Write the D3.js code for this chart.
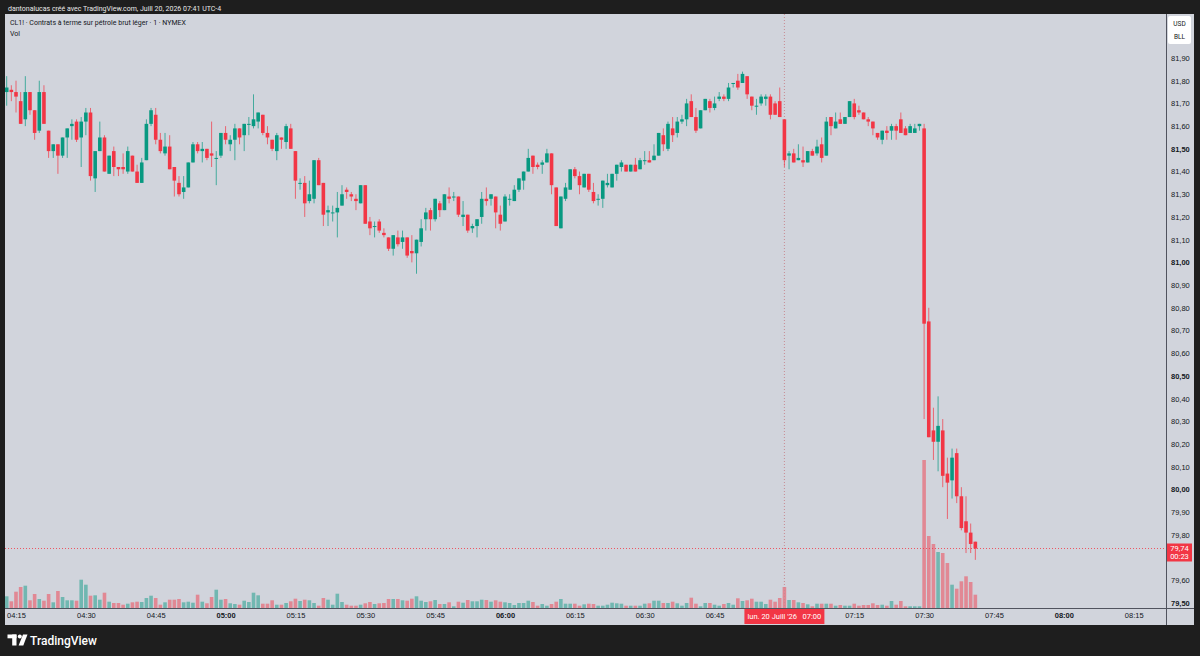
<!DOCTYPE html>
<html><head><meta charset="utf-8">
<script src="https://cdn.jsdelivr.net/npm/d3@7"></script>
<style>html,body{margin:0;padding:0;background:#1e1e1e;}svg{display:block;font-family:Roboto,"Liberation Sans",Arial,sans-serif;}</style>
</head><body><svg id="c" width="1200" height="656"></svg>
<script>
// ---------- DATA ----------
const startTime = "2026-07-20 04:13";       // first 1-minute candle
const axisStart = "2026-07-20 04:15";
const axisEnd   = "2026-07-20 08:15";
const crosshairTime = "2026-07-20 07:00";
const lastPrice = 79.74;
const countdown = "00:23";
const headerText = "dantonalucas créé avec TradingView.com, Juill 20, 2026 07:41 UTC-4";
const titleText = "CL1! · Contrats à terme sur pétrole brut léger · 1 · NYMEX";
const dateLabel = "lun. 20 Juill '26   07:00";
const currencyLabels = ["USD", "BLL"];

const open = [81.75,81.76,81.75,81.71,81.63,81.75,81.67,81.58,81.75,81.58,81.49,81.52,81.47,81.55,81.60,81.62,81.55,81.62,81.66,81.37,
81.49,81.55,81.39,81.49,81.42,81.42,81.40,81.47,81.40,81.35,81.45,81.61,81.65,81.54,81.48,81.51,81.42,81.35,81.31,81.33,
81.44,81.52,81.49,81.50,81.48,81.46,81.47,81.57,81.52,81.54,81.59,81.56,81.61,81.60,81.62,81.65,81.57,81.54,81.49,81.55,
81.53,81.59,81.49,81.35,81.35,81.27,81.28,81.45,81.35,81.22,81.22,81.22,81.25,81.32,81.30,81.28,81.26,81.34,81.18,81.16,
81.18,81.13,81.11,81.06,81.11,81.09,81.11,81.05,81.04,81.09,81.19,81.23,81.19,81.26,81.23,81.29,81.29,81.29,81.20,81.21,
81.15,81.16,81.20,81.28,81.28,81.29,81.21,81.18,81.28,81.27,81.32,81.36,81.40,81.47,81.43,81.43,81.44,81.48,81.33,81.15,
81.28,81.32,81.41,81.38,81.33,81.39,81.31,81.28,81.28,81.34,81.33,81.39,81.42,81.43,81.40,81.43,81.41,81.45,81.45,81.45,
81.47,81.56,81.50,81.59,81.57,81.62,81.63,81.71,81.64,81.59,81.67,81.71,81.68,81.72,81.73,81.72,81.79,81.80,81.79,81.82,
81.73,81.69,81.70,81.72,81.73,81.70,81.71,81.63,81.47,81.48,81.45,81.45,81.44,81.49,81.48,81.52,81.47,81.64,81.59,81.63,
81.61,81.64,81.70,81.67,81.66,81.63,81.62,81.57,81.54,81.58,81.58,81.60,81.63,81.59,81.57,81.57,81.60,81.59,80.74,80.26,
80.21,80.26,80.07,80.04,80.16,79.97,79.86,79.81,79.77];
const high = [81.82,81.78,81.80,81.75,81.82,81.75,81.67,81.80,81.78,81.58,81.52,81.52,81.55,81.59,81.63,81.63,81.64,81.68,81.68,81.49,
81.62,81.56,81.47,81.51,81.42,81.48,81.51,81.47,81.43,81.46,81.63,81.68,81.68,81.57,81.57,81.56,81.42,81.38,81.38,81.44,
81.53,81.53,81.53,81.50,81.62,81.49,81.57,81.60,81.56,81.61,81.59,81.61,81.64,81.74,81.66,81.65,81.60,81.54,81.57,81.55,
81.61,81.61,81.49,81.37,81.38,81.36,81.45,81.46,81.35,81.25,81.25,81.31,81.34,81.33,81.31,81.30,81.34,81.34,81.20,81.18,
81.19,81.15,81.11,81.12,81.14,81.14,81.11,81.12,81.10,81.19,81.24,81.24,81.28,81.27,81.30,81.33,81.31,81.29,81.27,81.21,
81.17,81.19,81.31,81.33,81.30,81.29,81.25,81.30,81.30,81.34,81.37,81.40,81.50,81.47,81.44,81.45,81.50,81.48,81.33,81.29,
81.35,81.41,81.42,81.40,81.39,81.39,81.35,81.30,81.36,81.39,81.39,81.43,81.45,81.43,81.43,81.46,81.46,81.49,81.49,81.52,
81.57,81.59,81.62,81.64,81.64,81.65,81.72,81.74,81.68,81.67,81.72,81.72,81.73,81.75,81.74,81.79,81.79,81.83,81.84,81.82,
81.73,81.72,81.74,81.74,81.74,81.71,81.77,81.63,81.49,81.50,81.52,81.51,81.49,81.50,81.54,81.55,81.64,81.64,81.66,81.66,
81.64,81.71,81.72,81.69,81.66,81.64,81.62,81.57,81.58,81.60,81.61,81.61,81.66,81.60,81.61,81.61,81.61,81.61,80.80,80.36,
80.41,80.31,80.14,80.18,80.18,80.01,79.97,79.85,79.77];
const low = [81.69,81.71,81.66,81.61,81.60,81.65,81.54,81.57,81.61,81.46,81.46,81.39,81.46,81.46,81.54,81.53,81.42,81.56,81.36,81.31,
81.49,81.40,81.39,81.38,81.38,81.39,81.39,81.40,81.35,81.35,81.45,81.60,81.52,81.48,81.47,81.41,81.29,81.29,81.28,81.33,
81.44,81.48,81.44,81.45,81.42,81.34,81.46,81.52,81.49,81.45,81.52,81.49,81.56,81.59,81.59,81.56,81.52,81.49,81.45,81.50,
81.50,81.50,81.28,81.32,81.20,81.26,81.26,81.34,81.16,81.16,81.18,81.11,81.25,81.28,81.27,81.23,81.26,81.17,81.12,81.11,
81.13,81.11,81.05,81.03,81.07,81.06,81.02,81.00,80.95,81.07,81.14,81.14,81.18,81.20,81.23,81.26,81.27,81.20,81.16,81.13,
81.13,81.11,81.17,81.25,81.25,81.15,81.14,81.18,81.25,81.27,81.31,81.32,81.40,81.39,81.41,81.39,81.44,81.30,81.16,81.15,
81.27,81.32,81.37,81.30,81.33,81.31,81.26,81.25,81.24,81.33,81.33,81.36,81.40,81.40,81.40,81.40,81.41,81.43,81.44,81.45,
81.47,81.49,81.49,81.53,81.55,81.61,81.60,81.64,81.57,81.59,81.67,81.66,81.67,81.71,81.71,81.71,81.77,81.76,81.79,81.72,
81.67,81.65,81.69,81.69,81.63,81.65,81.64,81.42,81.41,81.44,81.45,81.42,81.44,81.47,81.47,81.44,81.47,81.56,81.59,81.61,
81.61,81.64,81.63,81.65,81.63,81.60,81.56,81.54,81.52,81.54,81.54,81.54,81.57,81.56,81.57,81.57,81.58,80.31,80.23,80.13,
80.08,80.01,79.87,79.96,79.94,79.82,79.72,79.72,79.69];
const close = [81.77,81.75,81.73,81.61,81.75,81.67,81.57,81.75,81.61,81.49,81.52,81.47,81.55,81.59,81.61,81.54,81.62,81.66,81.38,81.49,
81.55,81.40,81.47,81.42,81.41,81.41,81.49,81.40,81.35,81.44,81.61,81.67,81.54,81.49,81.51,81.41,81.36,81.30,81.33,81.44,
81.52,81.49,81.50,81.46,81.47,81.46,81.57,81.54,81.54,81.59,81.55,81.61,81.61,81.63,81.66,81.57,81.55,81.50,81.56,81.54,
81.60,81.50,81.36,81.35,81.26,81.30,81.45,81.34,81.21,81.23,81.22,81.24,81.30,81.31,81.29,81.27,81.34,81.17,81.15,81.16,
81.14,81.12,81.06,81.12,81.08,81.11,81.03,81.04,81.10,81.15,81.22,81.19,81.28,81.23,81.30,81.28,81.29,81.21,81.21,81.14,
81.16,81.19,81.28,81.27,81.30,81.22,81.17,81.29,81.28,81.32,81.37,81.40,81.46,81.42,81.42,81.44,81.48,81.34,81.16,81.29,
81.33,81.41,81.38,81.34,81.39,81.32,81.27,81.28,81.36,81.35,81.39,81.43,81.44,81.40,81.43,81.40,81.45,81.45,81.44,81.47,
81.57,81.52,81.61,81.56,81.62,81.63,81.70,81.64,81.58,81.67,81.72,81.68,81.70,81.73,81.72,81.77,81.79,81.77,81.83,81.74,
81.69,81.69,81.73,81.73,81.65,81.65,81.64,81.45,81.48,81.44,81.46,81.44,81.49,81.47,81.51,81.46,81.62,81.60,81.62,81.61,
81.64,81.71,81.64,81.66,81.63,81.62,81.59,81.55,81.58,81.57,81.60,81.58,81.57,81.56,81.60,81.59,81.61,80.73,80.23,80.21,
80.28,80.06,80.03,80.14,79.97,79.83,79.81,79.76,79.74];
const volume = [1170,670,1630,2100,2230,770,1400,900,730,1400,570,1700,1100,770,770,730,2830,2330,1230,1270,
830,1530,630,500,500,330,430,570,630,600,1000,1230,1000,330,570,830,830,900,570,630,
530,1330,630,470,1100,1830,830,900,470,400,330,730,600,1530,1270,430,430,770,330,330,
500,670,930,700,830,770,500,230,1000,830,330,1430,600,330,230,230,330,470,600,400,
470,500,900,900,900,770,730,930,1170,730,600,670,800,400,400,570,170,630,530,800,
670,670,830,800,630,770,630,570,500,300,500,500,730,600,230,400,230,400,630,900,
430,430,430,230,370,430,400,230,230,330,530,470,430,230,230,230,230,430,470,730,
730,500,500,630,470,230,500,1030,430,170,500,500,330,230,400,500,330,970,700,770,
930,630,630,400,830,630,1000,2100,800,800,570,500,370,170,430,430,430,430,230,300,
230,230,430,230,300,300,470,300,330,230,700,330,700,170,170,170,170,14800,7200,6400,
5600,5500,4500,2330,1930,2670,3170,2600,1330];

// ---------- SETUP ----------
const UP = "#089981", DOWN = "#f23645", BG = "#d1d4dc", TXT = "#131722";
const svg = d3.select("#c");
const parse = d3.timeParse("%Y-%m-%d %H:%M");
const t0 = parse(startTime);
const times = close.map((_, i) => d3.timeMinute.offset(t0, i));
const pane = {l: 5, t: 14, r: 1166, b: 608};
const minPx = 4.657;
const x = d3.scaleTime().domain([parse(axisStart), parse(axisEnd)]).range([16, 16 + 240 * minPx]);
const y = d3.scaleLinear().domain([79.5, 81.9]).range([603, 58]);
const yv = d3.scaleLinear().domain([0, d3.max(volume)]).range([pane.b, 460]);
const fmtP = v => d3.format(".2f")(v).replace(".", ",");
const cx = x(parse(crosshairTime));

// frame
svg.append("rect").attr("width", 1200).attr("height", 656).attr("fill", "#1e1e1e");
svg.append("text").attr("x", 8).attr("y", 11).attr("fill", "#e8e8e8").attr("font-size", 7).text(headerText);
svg.append("rect").attr("x", pane.l).attr("y", pane.t).attr("width", 1194 - pane.l).attr("height", 625 - pane.t).attr("fill", BG);

svg.append("defs").append("clipPath").attr("id", "clip").append("rect")
  .attr("x", pane.l).attr("y", pane.t).attr("width", pane.r - pane.l).attr("height", pane.b - pane.t);
const g = svg.append("g").attr("clip-path", "url(#clip)");

const bw = 3.6;
const data = close.map((c, i) => ({t: times[i], o: open[i], h: high[i], l: low[i], c, v: volume[i], up: c >= open[i]}));

// volume
g.append("g").selectAll("rect").data(data).join("rect")
  .attr("x", d => x(d.t) - bw / 2).attr("width", bw)
  .attr("y", d => yv(d.v)).attr("height", d => pane.b - yv(d.v))
  .attr("fill", d => d.up ? UP : DOWN).attr("fill-opacity", 0.48);

// crosshair vertical
g.append("line").attr("x1", cx).attr("x2", cx)
  .attr("y1", pane.t).attr("y2", pane.b).attr("stroke", "#c98a92").attr("stroke-dasharray", "1,2").attr("stroke-width", 1);

// last price line
g.append("line").attr("x1", pane.l).attr("x2", pane.r).attr("y1", y(lastPrice)).attr("y2", y(lastPrice))
  .attr("stroke", DOWN).attr("stroke-opacity", 0.8).attr("stroke-dasharray", "1,2");

// candles
const cg = g.append("g");
cg.selectAll("line").data(data).join("line")
  .attr("x1", d => x(d.t)).attr("x2", d => x(d.t))
  .attr("y1", d => y(d.h)).attr("y2", d => y(d.l))
  .attr("stroke", d => d.up ? UP : DOWN).attr("stroke-opacity", 0.7).attr("stroke-width", 1);
cg.selectAll("rect").data(data).join("rect")
  .attr("x", d => x(d.t) - bw / 2).attr("width", bw)
  .attr("y", d => y(Math.max(d.o, d.c)))
  .attr("height", d => Math.max(1, Math.abs(y(d.o) - y(d.c))))
  .attr("fill", d => d.up ? UP : DOWN);

// header titles
svg.append("text").attr("x", 10).attr("y", 24.5).attr("fill", TXT).attr("font-size", 7).text(titleText);
svg.append("text").attr("x", 10).attr("y", 35.5).attr("fill", TXT).attr("font-size", 7).text("Vol");

// axis separators
svg.append("line").attr("x1", 1166.5).attr("x2", 1166.5).attr("y1", pane.t).attr("y2", 625).attr("stroke", "#50535e");
svg.append("line").attr("x1", pane.l).attr("x2", 1194).attr("y1", 608.5).attr("y2", 608.5).attr("stroke", "#50535e");

// right price axis
const ya = svg.append("g").attr("transform", "translate(1167,0)")
  .call(d3.axisRight(y).ticks(24).tickSize(0).tickPadding(4).tickFormat(fmtP));
ya.select(".domain").remove();
ya.selectAll("text").attr("fill", TXT).attr("font-size", 7.5).attr("font-family", null)
  .attr("font-weight", d => Math.abs(d * 2 - Math.round(d * 2)) < 1e-6 ? "bold" : "normal");

// currency box
svg.append("rect").attr("x", 1168).attr("y", 16).attr("width", 23).attr("height", 28).attr("rx", 2).attr("fill", "#ffffff");
currencyLabels.forEach((s, k) => svg.append("text").attr("x", 1179.5).attr("y", 26 + k * 13)
  .attr("text-anchor", "middle").attr("font-size", 6.5).attr("fill", TXT).text(s));

// bottom time axis (label hidden under the crosshair date label is omitted)
const xa = svg.append("g").attr("transform", "translate(0,608)")
  .call(d3.axisBottom(x).ticks(d3.timeMinute.every(15)).tickSize(0).tickPadding(5).tickFormat(d3.timeFormat("%H:%M")));
xa.select(".domain").remove();
xa.selectAll(".tick").filter(d => Math.abs(x(d) - cx) < 45).remove();
xa.selectAll("text").attr("fill", TXT).attr("font-size", 7.5).attr("font-family", null)
  .attr("font-weight", d => d.getMinutes() === 0 ? "bold" : "normal");

// last price label
const ly = y(lastPrice);
svg.append("rect").attr("x", 1167).attr("y", ly - 5).attr("width", 25).attr("height", 18).attr("fill", DOWN);
svg.append("text").attr("x", 1179.5).attr("y", ly + 2.5).attr("text-anchor", "middle").attr("font-size", 7.5).attr("fill", "#fff").text(fmtP(lastPrice));
svg.append("text").attr("x", 1179.5).attr("y", ly + 10.5).attr("text-anchor", "middle").attr("font-size", 7.5).attr("fill", "#fff").text(countdown);

// crosshair time label
svg.append("rect").attr("x", cx - 40).attr("y", 609).attr("width", 80).attr("height", 15).attr("fill", DOWN);
svg.append("text").attr("x", cx).attr("y", 619).attr("text-anchor", "middle").attr("font-size", 7.5).attr("fill", "#fff")
  .attr("xml:space", "preserve").style("white-space", "pre").text(dateLabel);

// footer logo
const lg = svg.append("g").attr("fill", "#ffffff");
lg.append("rect").attr("x", 7.5).attr("y", 634.5).attr("width", 9).attr("height", 3.8);
lg.append("rect").attr("x", 12.2).attr("y", 634.5).attr("width", 4.3).attr("height", 11);
lg.append("circle").attr("cx", 19.8).attr("cy", 636.5).attr("r", 2);
lg.append("polygon").attr("points", "23,634.5 27.5,634.5 23.3,645.5 18.6,645.5");
svg.append("text").attr("x", 30).attr("y", 644.5).attr("fill", "#fff").attr("font-size", 12).attr("font-weight", 500).text("TradingView");
</script></body></html>
